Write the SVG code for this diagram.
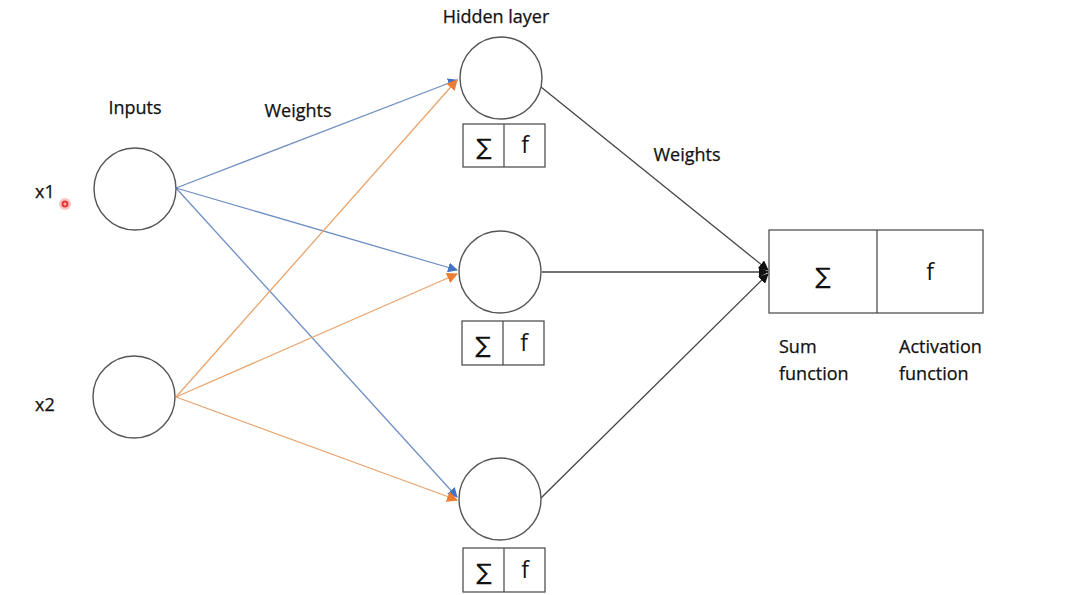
<svg xmlns="http://www.w3.org/2000/svg" width="1069" height="595" viewBox="0 0 1069 595">
<style>
.node{fill:#fff;stroke:#555;stroke-width:1.4}
.box{fill:#fff;stroke:#444;stroke-width:1.2}
.t{font-family:"Open Sans","Liberation Sans",sans-serif;font-size:18px;fill:#111;stroke:#111;stroke-width:0.25}
.f{font-family:"Open Sans","Liberation Sans",sans-serif;font-size:23px;fill:#111;text-anchor:middle}
.sym{font-family:"DejaVu Sans","Liberation Sans",sans-serif;font-size:23px;fill:#111;text-anchor:middle}
.blue{stroke:#6f8fc4;stroke-width:1.3;fill:none}
.orange{stroke:#e9a46c;stroke-width:1.3;fill:none}
.black{stroke:#444;stroke-width:1.3;fill:none}
</style>
<defs>
<marker id="ab" viewBox="0 0 10 10" refX="9" refY="5" markerWidth="10" markerHeight="10" markerUnits="userSpaceOnUse" orient="auto"><path d="M0,0 L10,5 L0,10 z" fill="#4472c4"/></marker>
<marker id="ao" viewBox="0 0 10 10" refX="9" refY="5" markerWidth="11" markerHeight="11" markerUnits="userSpaceOnUse" orient="auto"><path d="M0,0 L10,5 L0,10 z" fill="#ed7d31"/></marker>
<marker id="ak" viewBox="0 0 10 10" refX="9" refY="5" markerWidth="10" markerHeight="10" markerUnits="userSpaceOnUse" orient="auto"><path d="M0,0 L10,5 L0,10 z" fill="#111"/></marker>
</defs>
<rect width="1069" height="595" fill="#fff"/>
<g id="connectors">
<line class="blue" x1="176" y1="188" x2="457" y2="80" marker-end="url(#ab)"/>
<line class="blue" x1="176" y1="188" x2="457" y2="270" marker-end="url(#ab)"/>
<line class="blue" x1="176" y1="188" x2="457" y2="497" marker-end="url(#ab)"/>
<line class="orange" x1="176" y1="397" x2="457" y2="80" marker-end="url(#ao)"/>
<line class="orange" x1="176" y1="397" x2="457" y2="274" marker-end="url(#ao)"/>
<line class="orange" x1="176" y1="397" x2="457" y2="500" marker-end="url(#ao)"/>
<line class="black" x1="541" y1="87" x2="768" y2="270" marker-end="url(#ak)"/>
<line class="black" x1="542" y1="272" x2="768" y2="272" marker-end="url(#ak)"/>
<line class="black" x1="541" y1="498" x2="768" y2="274" marker-end="url(#ak)"/>
</g>
<g id="input-x1">
<circle class="node" cx="135" cy="189" r="41"/>
<text class="t" x="35" y="198">x1</text>
</g>
<circle cx="65" cy="204" r="6" fill="#f5a0a0" opacity="0.6"/>
<circle cx="65" cy="204" r="3.5" fill="#e53935"/>
<circle cx="65" cy="204" r="1.5" fill="#ffb0a8"/>
<g id="input-x2">
<circle class="node" cx="134" cy="397" r="41"/>
<text class="t" x="35" y="411">x2</text>
</g>
<g id="hidden-1">
<circle class="node" cx="501" cy="78" r="41"/>
<rect class="box" x="463" y="124" width="82" height="43"/>
<line class="box" x1="504" y1="124" x2="504" y2="167"/>
<text class="sym" x="484" y="155">∑</text>
<text class="f" x="525" y="153">f</text>
</g>
<g id="hidden-2">
<circle class="node" cx="500" cy="272" r="41"/>
<rect class="box" x="462" y="321" width="82" height="44"/>
<line class="box" x1="503" y1="321" x2="503" y2="365"/>
<text class="sym" x="483" y="353">∑</text>
<text class="f" x="524" y="351">f</text>
</g>
<g id="hidden-3">
<circle class="node" cx="500" cy="499" r="41"/>
<rect class="box" x="463" y="548" width="82" height="44"/>
<line class="box" x1="504" y1="548" x2="504" y2="592"/>
<text class="sym" x="484" y="580">∑</text>
<text class="f" x="525" y="578">f</text>
</g>
<g id="output">
<rect class="box" x="769" y="230" width="214" height="83"/>
<line class="box" x1="877" y1="230" x2="877" y2="313"/>
<text class="sym" x="823" y="284">∑</text>
<text class="f" x="930" y="280">f</text>
<text class="t" x="779" y="353">Sum</text>
<text class="t" x="779" y="380">function</text>
<text class="t" x="899" y="353">Activation</text>
<text class="t" x="899" y="380">function</text>
</g>
<g id="labels">
<text class="t" x="496" y="23" text-anchor="middle">Hidden layer</text>
<text class="t" x="135" y="114" text-anchor="middle">Inputs</text>
<text class="t" x="298" y="117" text-anchor="middle">Weights</text>
<text class="t" x="687" y="161" text-anchor="middle">Weights</text>
</g>
</svg>
